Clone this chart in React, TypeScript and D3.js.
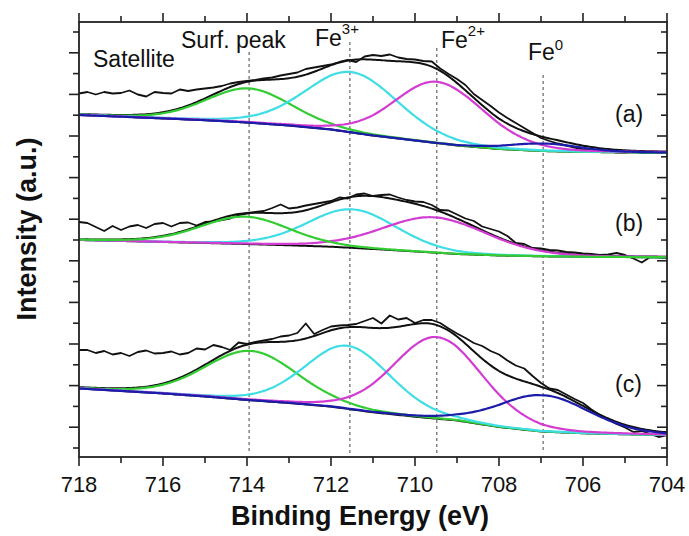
import React from "react";
import * as d3 from "d3";

const W = 689;
const H = 536;
const FONT = "'Liberation Sans', Arial, Helvetica, sans-serif";

// axes
const xMajorTicks = [718, 716, 714, 712, 710, 708, 706, 704];
const xTickLabels = ["718", "716", "714", "712", "710", "708", "706", "704"];
const xMinorTicks = [717, 715, 713, 711, 709, 707, 705];
const yTicks = [9, 29.8, 50.6, 71.4, 92.2, 113, 133.8, 154.6, 175.4, 196.2, 217, 237.8, 258.6, 279.4, 300.2, 321, 341.8, 362.6, 383.4, 404.2, 425];

// reference lines (binding energies of the states) and the intensity where each dashed line starts
const refNames = ["Surf. peak", "Fe3+", "Fe2+", "Fe0"];
const refEnergies = [713.95, 711.55, 709.48, 706.95];
const refTops = [405, 415, 409, 382];
const refBottom = 4;

// raw spectra, 718 -> 704 eV in 0.2 eV steps
const rawA = [363.5, 365, 362.5, 365, 363.5, 364, 366.5, 362.5, 360.5, 365, 364, 363.5, 367.5, 366, 367.5, 368.5, 369.5, 371, 373.5, 375, 376, 377, 378.5, 379.5, 381.5, 383, 384.5, 388, 389.5, 391, 392.5, 395, 397, 395, 400.5, 402, 401, 402.5, 399.5, 398, 397.5, 396, 395.5, 388.5, 383, 378, 372, 363, 357, 351, 344.5, 339, 334, 329, 324, 319, 316, 313.5, 311.5, 309.5, 307.5, 306.5, 306, 305.5, 304.5, 304.5, 305, 304, 304.5, 304.2, 304.5];
const rawB = [235, 234, 230, 226, 231, 227, 230.5, 232, 229, 233, 234, 230.5, 234, 234.5, 231.5, 235, 235.5, 237, 238.5, 242, 243.5, 245, 246, 249, 252.5, 248.5, 249.5, 251.5, 253, 254.5, 256, 259.5, 258.5, 262.5, 263.5, 261, 262, 262.5, 259.5, 257, 255.5, 255, 252, 247, 246.5, 242.5, 238.5, 236, 230.5, 228, 225.5, 221, 214, 213, 209, 208.5, 207, 206.5, 205, 204.5, 203.5, 203, 202, 202.5, 204, 202, 198.5, 194.5, 200, 199.5, 199];
const rawC = [107, 107, 104, 106, 102.5, 104, 101, 105, 106.5, 103.5, 104, 105.5, 102.5, 104, 108.5, 107.5, 112, 110, 107, 114.5, 113, 115, 116.5, 118, 120.5, 121.5, 124, 133.5, 123, 127, 130.5, 131.5, 132, 133, 136, 139, 133.5, 141.5, 137.5, 139, 134, 137, 137, 134, 128.5, 123.5, 119, 114, 111, 106, 102.5, 96.5, 91.5, 88.5, 81, 74, 68.5, 67, 62.5, 58, 54, 47.5, 42, 37.5, 33, 29.5, 25, 26, 23, 20, 22];

// backgrounds at integer energies 718 -> 704
const baseEnergy = [718, 717, 716, 715, 714, 713, 712, 711, 710, 709, 708, 707, 706, 705, 704];
const baselineA = [342, 340.3, 338.6, 336.8, 334.5, 331.5, 327.5, 321.5, 316.5, 311.5, 308, 306, 305, 304.7, 304.5];
const baselineB = [217, 216, 215, 214, 213, 211.7, 210.3, 208, 205.5, 203, 201.5, 200.7, 200.2, 199.9, 199.7];
const baselineC = [68.5, 66, 63.5, 60.5, 57, 54, 50.4, 44.7, 40.3, 36.5, 30, 25.5, 23.7, 22.7, 22];

// fitted components: Surf. peak, Fe3+, Fe2+, Fe0
// fwhmHi = width on the high-BE side, fwhmLo = width on the low-BE side
const centersA = [713.95, 711.5, 709.47, 706.9];
const heightsA = [34.2, 60.3, 61.3, 7.5];
const fwhmHiA = [2.4, 2.6, 2.4, 2.0];
const fwhmLoA = [2.4, 2.6, 2.6, 2.0];
const centersB = [714.05, 711.5, 709.55, 707.0];
const heightsB = [27.3, 38.5, 35.3, 0];
const fwhmHiB = [2.5, 2.5, 2.9, 2.0];
const fwhmLoB = [2.5, 2.5, 3.0, 2.0];
const centersC = [713.9, 711.6, 709.48, 706.95];
const heightsC = [49.3, 63, 81.6, 36.3];
const fwhmHiC = [2.6, 2.4, 2.45, 2.5];
const fwhmLoC = [2.6, 2.4, 2.55, 2.6];

const panelLabels = ["(a)", "(b)", "(c)"];

const compColors = ["#33cc33", "#3fdde6", "#d23cd2", "#1c1caa"];
const GL_MIX = 0.15;

const x = d3.scaleLinear().domain([718, 704]).range([79, 667]);
const y = d3.scaleLinear().domain([0, 435]).range([457, 22]);

function glShape(e: number, c: number, h: number, wHi: number, wLo: number) {
  const w = e >= c ? wHi : wLo;
  const t = ((e - c) * (e - c)) / (w * w);
  return h * ((1 - GL_MIX) * Math.exp(-4 * Math.LN2 * t) + GL_MIX / (1 + 4 * t));
}

const rawEnergy = d3.range(71).map((i) => 718 - i * 0.2);
const fineEnergy = d3.range(281).map((i) => 718 - i * 0.05);

type Spec = {
  raw: number[];
  base: number[];
  centers: number[];
  heights: number[];
  wHi: number[];
  wLo: number[];
  order: number[];
  label: string;
  labelY: number;
};

const spectra: Spec[] = [
  { raw: rawA, base: baselineA, centers: centersA, heights: heightsA, wHi: fwhmHiA, wLo: fwhmLoA, order: [0, 1, 2, 3], label: panelLabels[0], labelY: 122 },
  { raw: rawB, base: baselineB, centers: centersB, heights: heightsB, wHi: fwhmHiB, wLo: fwhmLoB, order: [1, 2, 0], label: panelLabels[1], labelY: 231 },
  { raw: rawC, base: baselineC, centers: centersC, heights: heightsC, wHi: fwhmHiC, wLo: fwhmLoC, order: [0, 1, 2, 3], label: panelLabels[2], labelY: 392 },
];

const line = d3
  .line<[number, number]>()
  .x((d) => x(d[0]))
  .y((d) => y(d[1]));

function Spectrum({ s }: { s: Spec }) {
  const bl = d3
    .scaleLinear()
    .domain(baseEnergy.slice().reverse())
    .range(s.base.slice().reverse());
  const comp = (e: number, i: number) => glShape(e, s.centers[i], s.heights[i], s.wHi[i], s.wLo[i]);
  const basePts: [number, number][] = fineEnergy.map((e) => [e, bl(e)]);
  const comps = s.centers.map((_, i) =>
    fineEnergy.map((e) => [e, bl(e) + comp(e, i)] as [number, number])
  );
  const env: [number, number][] = fineEnergy.map((e) => {
    let v = bl(e);
    s.centers.forEach((_, i) => (v += comp(e, i)));
    return [e, v];
  });
  const raw: [number, number][] = s.raw.map((v, i) => [rawEnergy[i], v]);
  return (
    <g fill="none" strokeLinejoin="round">
      <path d={line(basePts) || ""} stroke="#111" strokeWidth={2} />
      <path d={line(env) || ""} stroke="#111" strokeWidth={2} />
      <path d={line(raw) || ""} stroke="#111" strokeWidth={1.8} />
      {s.order.map((i) => (
        <path key={i} d={line(comps[i]) || ""} stroke={compColors[i]} strokeWidth={2.2} />
      ))}
      <text x={615} y={s.labelY} fontSize={23} fill="#111" stroke="none" fontFamily={FONT}>
        {s.label}
      </text>
    </g>
  );
}

export default function App() {
  const left = 79, right = 667, top = 22, bottom = 457;
  return (
    <svg width={W} height={H} style={{ position: "absolute", left: 0, top: 0, background: "#fff" }} fontFamily={FONT}>
      <rect x={0} y={0} width={W} height={H} fill="#fff" />
      {/* reference dashed lines */}
      {refEnergies.map((e, i) => (
        <line key={refNames[i]} x1={x(e)} x2={x(e)} y1={y(refTops[i])} y2={y(refBottom)} stroke="#444" strokeWidth={1} strokeDasharray="3,3" />
      ))}
      {spectra.map((s, i) => (
        <Spectrum key={i} s={s} />
      ))}
      {/* frame */}
      <rect x={left} y={top} width={right - left} height={bottom - top} fill="none" stroke="#222" strokeWidth={1.8} />
      {/* x ticks */}
      {xMajorTicks.map((t) => (
        <g key={"M" + t}>
          <line x1={x(t)} x2={x(t)} y1={bottom} y2={bottom + 9} stroke="#222" strokeWidth={1.6} />
          <line x1={x(t)} x2={x(t)} y1={top} y2={top - 9} stroke="#222" strokeWidth={1.6} />
        </g>
      ))}
      {xMinorTicks.map((t) => (
        <g key={"m" + t}>
          <line x1={x(t)} x2={x(t)} y1={bottom} y2={bottom + 6} stroke="#222" strokeWidth={1.6} />
          <line x1={x(t)} x2={x(t)} y1={top} y2={top - 6} stroke="#222" strokeWidth={1.6} />
        </g>
      ))}
      {xMajorTicks.map((t, i) => (
        <text key={"l" + t} x={x(t)} y={492} fontSize={22} textAnchor="middle" fill="#111">
          {xTickLabels[i]}
        </text>
      ))}
      {/* y ticks */}
      {yTicks.map((t, k) => {
        const len = k % 2 === 1 ? 10 : 6;
        return (
          <g key={"y" + k}>
            <line x1={left - len} x2={left} y1={y(t)} y2={y(t)} stroke="#222" strokeWidth={1.6} />
            <line x1={right - len} x2={right} y1={y(t)} y2={y(t)} stroke="#222" strokeWidth={1.6} />
          </g>
        );
      })}
      {/* axis titles */}
      <text x={360} y={525} fontSize={27} fontWeight="bold" textAnchor="middle" fill="#111">
        Binding Energy (eV)
      </text>
      <text transform="translate(36,229) rotate(-90)" fontSize={27} fontWeight="bold" textAnchor="middle" fill="#111">
        Intensity (a.u.)
      </text>
      {/* annotations */}
      <text x={93} y={67} fontSize={23} fill="#111">Satellite</text>
      <text x={181} y={48} fontSize={23} fill="#111">Surf. peak</text>
      <text x={315} y={46} fontSize={23} fill="#111">
        Fe<tspan dy={-12} fontSize={15}>3+</tspan>
      </text>
      <text x={441} y={48} fontSize={23} fill="#111">
        Fe<tspan dy={-12} fontSize={15}>2+</tspan>
      </text>
      <text x={528} y={60} fontSize={23} fill="#111">
        Fe<tspan dy={-10} fontSize={15}>0</tspan>
      </text>
    </svg>
  );
}
